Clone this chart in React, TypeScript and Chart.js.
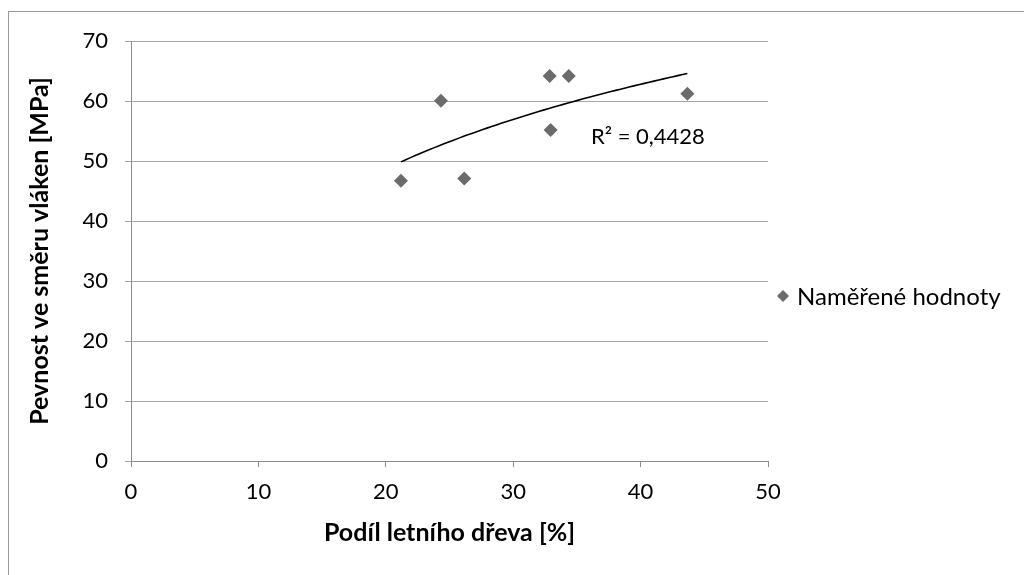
import React, { useEffect, useRef } from "react";
import { Chart, registerables } from "chart.js";

Chart.register(...registerables);

// Measured data (Podíl letního dřeva [%], Pevnost ve směru vláken [MPa])
const podilLetnihoDreva = [21.19, 24.33, 26.16, 32.86, 32.94, 34.36, 43.67];
const pevnost = [46.7, 60.05, 47.1, 64.17, 55.17, 64.17, 61.2];
const xTicks = [0, 10, 20, 30, 40, 50];
const yTicks = [0, 10, 20, 30, 40, 50, 60, 70];
const seriesName = "Naměřené hodnoty";
const xTitle = "Podíl letního dřeva [%]";
const yTitle = "Pevnost ve směru vláken [MPa]";
const r2Label = "R² = 0,4428";
const r2Anchor = { x: 36.1, y: 54.0 };

const FONT = "Lato, 'Open Sans', 'DejaVu Sans', sans-serif";
const MARKER = "#6b6b6b";

// Logarithmic trendline fitted from the measured points (as Excel does)
function logFit(xs: number[], ys: number[]) {
  const lx = xs.map((v) => Math.log(v));
  const n = xs.length;
  const mx = lx.reduce((a, b) => a + b, 0) / n;
  const my = ys.reduce((a, b) => a + b, 0) / n;
  let sxy = 0;
  let sxx = 0;
  for (let i = 0; i < n; i++) {
    sxy += (lx[i] - mx) * (ys[i] - my);
    sxx += (lx[i] - mx) * (lx[i] - mx);
  }
  const a = sxy / sxx;
  const b = my - a * mx;
  return { a, b };
}

export default function App() {
  const ref = useRef<HTMLCanvasElement | null>(null);

  useEffect(() => {
    const canvas = ref.current;
    if (!canvas) return;
    const { a, b } = logFit(podilLetnihoDreva, pevnost);
    const minX = Math.min(...podilLetnihoDreva);
    const maxX = Math.max(...podilLetnihoDreva);
    const trend: { x: number; y: number }[] = [];
    const steps = 60;
    for (let i = 0; i <= steps; i++) {
      const x = minX + ((maxX - minX) * i) / steps;
      trend.push({ x, y: a * Math.log(x) + b });
    }

    const framePlugin = {
      id: "frame",
      beforeDraw(chart: any) {
        const ctx = chart.ctx;
        ctx.save();
        ctx.fillStyle = "#ffffff";
        ctx.fillRect(0, 0, chart.width, chart.height);
        ctx.strokeStyle = "#9a9a9a";
        ctx.lineWidth = 1;
        ctx.strokeRect(8.5, 11.5, chart.width + 20, chart.height + 20);
        ctx.restore();
      },
      afterDraw(chart: any) {
        const ctx = chart.ctx;
        const area = chart.chartArea;
        const xs = chart.scales.x;
        const ys = chart.scales.y;
        ctx.save();
        // R² label
        ctx.fillStyle = "#000";
        ctx.font = `22px ${FONT}`;
        ctx.textAlign = "left";
        ctx.textBaseline = "middle";
        ctx.fillText(r2Label, xs.getPixelForValue(r2Anchor.x), ys.getPixelForValue(r2Anchor.y));
        // Legend
        const lx = area.right + 15;
        const ly = (area.top + area.bottom) / 2 + 45;
        ctx.fillStyle = MARKER;
        ctx.beginPath();
        const r = 6;
        ctx.moveTo(lx, ly - r);
        ctx.lineTo(lx + r, ly);
        ctx.lineTo(lx, ly + r);
        ctx.lineTo(lx - r, ly);
        ctx.closePath();
        ctx.fill();
        ctx.fillStyle = "#000";
        ctx.font = `24px ${FONT}`;
        ctx.fillText(seriesName, lx + 14, ly + 1);
        ctx.restore();
      },
    };

    const chart = new Chart(canvas, {
      type: "scatter",
      data: {
        datasets: [
          {
            label: seriesName,
            data: podilLetnihoDreva.map((x, i) => ({ x, y: pevnost[i] })),
            backgroundColor: MARKER,
            borderColor: MARKER,
            pointStyle: "rectRot",
            pointRadius: 7,
            pointBorderWidth: 0,
            order: 1,
          },
          {
            label: "trend",
            data: trend,
            showLine: true,
            borderColor: "#000000",
            borderWidth: 1.6,
            pointRadius: 0,
            pointHoverRadius: 0,
            tension: 0,
            order: 0,
          } as any,
        ],
      },
      options: {
        animation: false,
        responsive: false,
        devicePixelRatio: 1,
        layout: { padding: { left: 0, top: 41, right: 256, bottom: 0 } },
        plugins: {
          legend: { display: false },
          tooltip: { enabled: false },
        },
        scales: {
          x: {
            type: "linear",
            min: 0,
            max: 50,
            afterBuildTicks(scale: any) {
              scale.ticks = xTicks.map((v) => ({ value: v }));
            },
            ticks: {
              color: "#000",
              font: { family: FONT, size: 22 },
              padding: 12,
            },
            grid: {
              drawOnChartArea: false,
              drawTicks: true,
              tickLength: 6,
              color: "#8c8c8c",
            },
            border: { color: "#8c8c8c" },
            title: {
              display: true,
              text: xTitle,
              color: "#000",
              font: { family: FONT, size: 25, weight: "bold" },
              padding: { top: 0, bottom: 27 },
            },
            afterFit(scale: any) {
              scale.height = 114;
            },
          },
          y: {
            type: "linear",
            min: 0,
            max: 70,
            afterBuildTicks(scale: any) {
              scale.ticks = yTicks.map((v) => ({ value: v }));
            },
            ticks: {
              color: "#000",
              font: { family: FONT, size: 22 },
              padding: 17,
            },
            grid: {
              drawTicks: true,
              tickLength: 6,
              color: "#a6a6a6",
            },
            border: { color: "#8c8c8c" },
            title: {
              display: true,
              text: yTitle,
              color: "#000",
              font: { family: FONT, size: 25, weight: "bold" },
              padding: { top: 25, bottom: 0 },
            },
            afterFit(scale: any) {
              scale.width = 131;
            },
          },
        },
      },
      plugins: [framePlugin],
    });
    return () => chart.destroy();
  }, []);

  return (
    <div style={{ position: "fixed", left: 0, top: 0, width: 1024, height: 575 }}>
      <canvas ref={ref} width={1024} height={575} style={{ display: "block", width: 1024, height: 575 }} />
    </div>
  );
}
